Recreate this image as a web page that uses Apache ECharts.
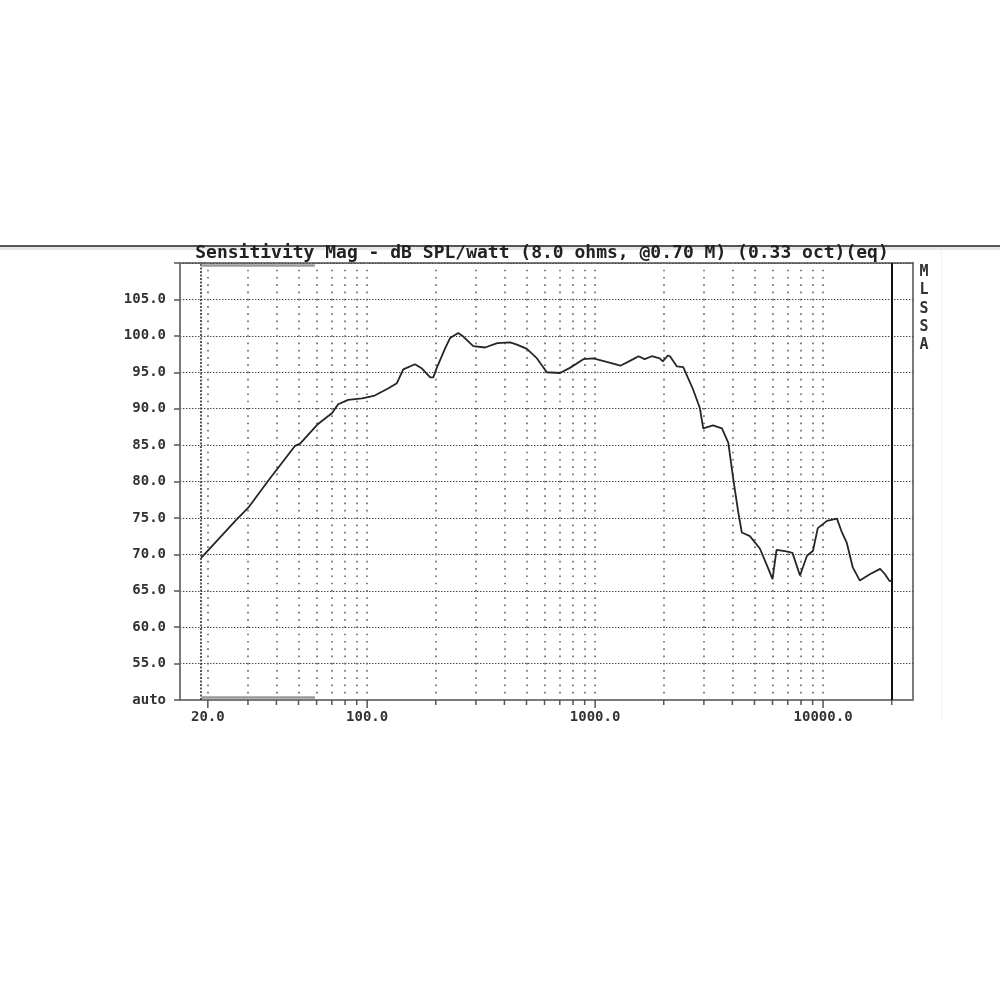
<!DOCTYPE html>
<html>
<head>
<meta charset="utf-8">
<script src="https://cdn.jsdelivr.net/npm/echarts@6/dist/echarts.min.js"></script>
<style>html,body{margin:0;padding:0;background:#fff}#c{width:1000px;height:1000px}</style>
</head>
<body>
<div id="c"></div>
<script>
// ---- data ----
var freqs = [18.7, 26.4, 30.1, 36.8, 48.3, 50.8, 60.9, 70.2, 74.6, 82.5, 95, 108, 124, 135, 144, 162, 174, 189, 195, 202, 220, 231, 251, 264, 292, 329, 372, 424, 454, 502, 556, 614, 702, 775, 888, 982, 1167, 1291, 1470, 1550, 1650, 1772, 1920, 1980, 2085, 2130, 2285, 2435, 2685, 2880, 2980, 3290, 3600, 3840, 4030, 4240, 4400, 4775, 5280, 5720, 6000, 6250, 6900, 7340, 7920, 8500, 9030, 9480, 10400, 11500, 12100, 12700, 13500, 14500, 16100, 17800, 18650, 19500, 20000];
var spl = [69.5, 74.6, 76.4, 80.1, 84.9, 85.2, 87.9, 89.4, 90.6, 91.2, 91.4, 91.8, 92.8, 93.5, 95.4, 96.1, 95.5, 94.3, 94.3, 95.6, 98.3, 99.7, 100.4, 99.9, 98.6, 98.4, 99.0, 99.1, 98.8, 98.2, 96.9, 95.0, 94.9, 95.6, 96.8, 96.9, 96.3, 95.9, 96.8, 97.2, 96.8, 97.2, 96.9, 96.5, 97.3, 97.2, 95.8, 95.7, 92.7, 90.1, 87.3, 87.7, 87.3, 85.3, 80.5, 75.9, 73.0, 72.5, 70.8, 68.2, 66.6, 70.6, 70.4, 70.2, 67.1, 69.8, 70.5, 73.6, 74.6, 74.9, 73.0, 71.6, 68.2, 66.4, 67.3, 68.0, 67.3, 66.4, 66.3];

var gridFreqs = [20, 30, 40, 50, 60, 70, 80, 90, 100, 200, 300, 400, 500, 600, 700, 800, 900, 1000, 2000, 3000, 4000, 5000, 6000, 7000, 8000, 9000, 10000];
var minorTickFreqs = [20, 30, 40, 50, 60, 70, 80, 90, 100, 200, 300, 400, 500, 600, 700, 800, 900, 1000, 2000, 3000, 4000, 5000, 6000, 7000, 8000, 9000, 10000, 20000];
var labelFreqs = [20, 100, 1000, 10000];
var startFreq = 18.7;
var endFreq = 20000;
var scrollBarFreqs = [18.7, 59];
var scrollBarLevels = [109.7, 50.4];
var yMin = 50, yMax = 110, yStep = 5;
var xMin = 15.1, xMax = 24800;
var titleText = 'Sensitivity Mag - dB SPL/watt (8.0 ohms, @0.70 M) (0.33 oct)(eq)';
var sideText = ['M', 'L', 'S', 'S', 'A'];

var MONO = '"DejaVu Sans Mono", "Liberation Mono", monospace';

var chart = echarts.init(document.getElementById('c'), null, {renderer: 'canvas'});

var lineData = freqs.map(function (f, i) { return [f, spl[i]]; });

var markData = [];
gridFreqs.forEach(function (f) {
  markData.push({xAxis: f, lineStyle: {color: '#6e6e6e', width: 1.7, type: [1.7, 5.58], dashOffset: 0.85}});
});
markData.push({xAxis: startFreq, lineStyle: {color: '#222', width: 1.5, type: [2, 1.5]}});
markData.push({xAxis: endFreq, lineStyle: {color: '#111', width: 2, type: 'solid'}});
scrollBarLevels.forEach(function (lv) {
  markData.push([
    {coord: [scrollBarFreqs[0], lv], lineStyle: {color: '#999', width: 2.5, type: 'solid'}},
    {coord: [scrollBarFreqs[1], lv]}
  ]);
});

var tickSeriesData = minorTickFreqs.map(function (f) { return [f, yMin]; });

var option = {
  animation: false,
  backgroundColor: '#fff',
  grid: {
    left: 180, right: 87, top: 263, bottom: 300,
    show: true, borderColor: '#7a7a7a', borderWidth: 2, backgroundColor: 'transparent'
  },
  xAxis: {
    type: 'log', logBase: 10, min: xMin, max: xMax,
    axisLine: {show: true, lineStyle: {color: '#7a7a7a', width: 2}},
    axisTick: {show: false}, axisLabel: {show: false}, splitLine: {show: false}, minorTick: {show: false}
  },
  yAxis: {
    type: 'value', min: yMin, max: yMax, interval: yStep,
    axisLine: {show: true, lineStyle: {color: '#7a7a7a', width: 2}},
    axisTick: {show: true, inside: false, length: 6, lineStyle: {color: '#555', width: 1.5}},
    axisLabel: {
      show: true, margin: 14, color: '#333', fontFamily: MONO, fontWeight: 'bold', fontSize: 14,
      formatter: function (v) {
        if (v >= yMax) return '';
        return v === yMin ? 'auto' : v.toFixed(1);
      }
    },
    splitLine: {show: true, lineStyle: {color: '#444', width: 1.2, type: [1.4, 1.6]}}
  },
  series: [
    {
      type: 'line', data: lineData, showSymbol: false, symbol: 'none',
      lineStyle: {color: '#262626', width: 1.8}, z: 5,
      markLine: {
        silent: true, symbol: ['none', 'none'], label: {show: false}, animation: false,
        data: markData, z: 2
      }
    },
    {
      type: 'custom', coordinateSystem: 'cartesian2d', clip: false, silent: true,
      data: tickSeriesData,
      renderItem: function (params, api) {
        var f = api.value(0);
        var p = api.coord([f, api.value(1)]);
        var major = labelFreqs.indexOf(f) >= 0;
        var children = [{
          type: 'line',
          shape: {x1: p[0], y1: p[1], x2: p[0], y2: p[1] + (major ? 8 : 5)},
          style: {stroke: '#555', lineWidth: 1.5}
        }];
        if (major) {
          children.push({
            type: 'text',
            style: {
              x: p[0], y: p[1] + 17, text: f.toFixed(1), align: 'center', verticalAlign: 'middle',
              fill: '#333', font: 'bold 14px ' + MONO
            }
          });
        }
        return {type: 'group', children: children};
      }
    }
  ],
  graphic: [
    {type: 'rect', shape: {x: 0, y: 245, width: 1000, height: 2}, style: {fill: '#555'}, z: 10},
    {type: 'rect', shape: {x: 0, y: 247, width: 1000, height: 3}, style: {fill: '#e6e6e6'}, z: 10},
    {type: 'rect', shape: {x: 941, y: 250, width: 1, height: 470}, style: {fill: '#f2f2f2'}, z: 1},
    {
      type: 'text', x: 542, y: 244, z: 11,
      style: {text: titleText, align: 'center', verticalAlign: 'top', fill: '#222', font: 'bold 18px ' + MONO}
    },
    {
      type: 'text', x: 924, y: 263, z: 11,
      style: {text: sideText.join('\n'), align: 'center', verticalAlign: 'top', lineHeight: 18.3, fill: '#333', font: 'bold 15px ' + MONO}
    }
  ]
};
chart.setOption(option);
</script>
</body>
</html>
